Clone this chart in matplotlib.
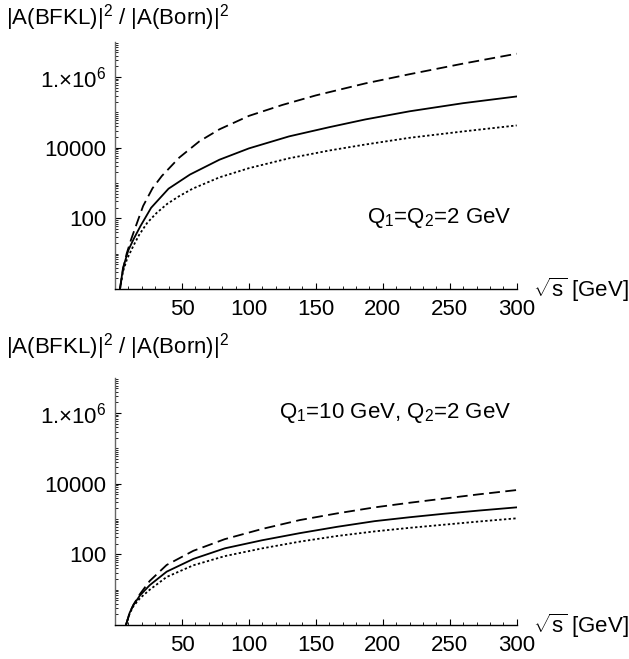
import matplotlib
matplotlib.use("Agg")
import matplotlib.pyplot as plt
from matplotlib.ticker import FixedLocator, NullFormatter
import numpy as np

plt.rcParams['font.family'] = ['Liberation Sans', 'DejaVu Sans']
plt.rcParams['mathtext.fontset'] = 'custom'
plt.rcParams['mathtext.rm'] = 'Liberation Sans'
plt.rcParams['mathtext.it'] = 'Liberation Sans:italic'

# values as log10 of the ratio
# top panel: Q1 = Q2 = 2 GeV
top_dashed_x = [3.7, 6, 8.7, 12, 15, 21, 28, 35, 48, 63, 78, 100, 125, 150, 187, 220, 260, 300]
top_dashed_log = [0, 0.55, 1.0, 1.40, 1.72, 2.35, 2.85, 3.2, 3.72, 4.18, 4.52, 4.90, 5.21, 5.48, 5.82, 6.08, 6.38, 6.66]
top_solid_x = [3.7, 6, 10, 14, 19, 27, 40, 56, 78, 100, 130, 160, 187, 220, 260, 300]
top_solid_log = [0, 0.6, 1.1, 1.42, 1.78, 2.3, 2.84, 3.24, 3.66, 3.98, 4.32, 4.58, 4.8, 5.03, 5.26, 5.45]
top_dotted_x = [3.7, 6, 9, 13.7, 18, 24, 31, 39, 48, 58, 78, 100, 130, 160, 187, 220, 260, 300]
top_dotted_log = [0, 0.5, 0.85, 1.22, 1.53, 1.87, 2.15, 2.41, 2.63, 2.84, 3.16, 3.42, 3.70, 3.92, 4.09, 4.28, 4.46, 4.63]

# bottom panel: Q1 = 10 GeV, Q2 = 2 GeV
bot_x = [8.2, 11, 13.7, 18.7, 26, 38.6, 58.5, 82, 110, 138, 166, 194, 220, 246, 272, 300]
bot_dashed_log = [0, 0.35, 0.57, 0.88, 1.25, 1.70, 2.10, 2.43, 2.72, 2.97, 3.16, 3.33, 3.46, 3.58, 3.70, 3.82]
bot_solid_log = [0, 0.35, 0.56, 0.84, 1.13, 1.51, 1.87, 2.17, 2.40, 2.60, 2.78, 2.94, 3.05, 3.15, 3.24, 3.33]
bot_dotted_log = [0, 0.33, 0.53, 0.76, 1.0, 1.36, 1.69, 1.95, 2.17, 2.36, 2.52, 2.65, 2.75, 2.84, 2.93, 3.02]

x_ticks = [50, 100, 150, 200, 250, 300]
y_ticks = [1e2, 1e4, 1e6]
y_labels = ['100', '10000', r'1.$\times$10$^6$']

W, H = 629, 659
fig = plt.figure(figsize=(W / 100, H / 100), dpi=100)

FS = 16


def setup(ax, note, note_y):
    ax.set_yscale('log')
    ax.set_xlim(0, 300)
    ax.set_ylim(1, 1e7)
    for s in ['top', 'right']:
        ax.spines[s].set_visible(False)
    ax.spines['left'].set_color('#666666')
    ax.spines['left'].set_linewidth(1.0)
    ax.spines['bottom'].set_linewidth(1.0)
    ax.xaxis.set_major_locator(FixedLocator(x_ticks))
    ax.xaxis.set_minor_locator(FixedLocator(np.arange(10, 300, 10)))
    ax.yaxis.set_major_locator(FixedLocator(y_ticks))
    ax.set_yticklabels(y_labels)
    minors = [m * 10 ** d for d in range(0, 7) for m in range(1, 10)
              if m * 10 ** d not in y_ticks and m * 10 ** d > 1]
    ax.yaxis.set_minor_locator(FixedLocator(minors))
    ax.yaxis.set_minor_formatter(NullFormatter())
    ax.tick_params(axis='both', which='major', direction='in', length=4, width=0.8,
                   labelsize=FS, pad=7)
    ax.tick_params(axis='both', which='minor', direction='in', length=2, width=0.6)
    ax.tick_params(axis='y', which='major', pad=6)
    ax.text(1.04, -0.005, r'$\sqrt{\mathrm{s}}$ [GeV]', transform=ax.transAxes, fontsize=FS,
            ha='left', va='center')
    ax.text(0.9875, note_y, note, transform=ax.transAxes, fontsize=FS, ha='right', va='center')


def panel(top_px, x_d, y_d, x_s, y_s, x_o, y_o, note, note_y, title_y):
    ax = fig.add_axes([115 / W, 1 - (top_px + 247.3) / H, 401.7 / W, 247.3 / H])
    ax.plot(x_d, 10 ** np.array(y_d), color='black', lw=1.3, dashes=(6, 3))
    ax.plot(x_s, 10 ** np.array(y_s), color='black', lw=1.3)
    ax.plot(x_o, 10 ** np.array(y_o), color='black', lw=1.3, dashes=(1.3, 1.3))
    setup(ax, note, note_y)
    fig.text(6 / W, 1 - title_y / H, r'|A(BFKL)|$^2$ / |A(Born)|$^2$', fontsize=FS,
             ha='left', va='center')
    return ax


panel(41.7, top_dashed_x, top_dashed_log, top_solid_x, top_solid_log,
      top_dotted_x, top_dotted_log, r'Q$_1$=Q$_2$=2 GeV', 0.287, 18)
panel(377.7, bot_x, bot_dashed_log, bot_x, bot_solid_log, bot_x, bot_dotted_log,
      r'Q$_1$=10 GeV, Q$_2$=2 GeV', 0.857, 347)

fig.savefig('out.png', dpi=100)
